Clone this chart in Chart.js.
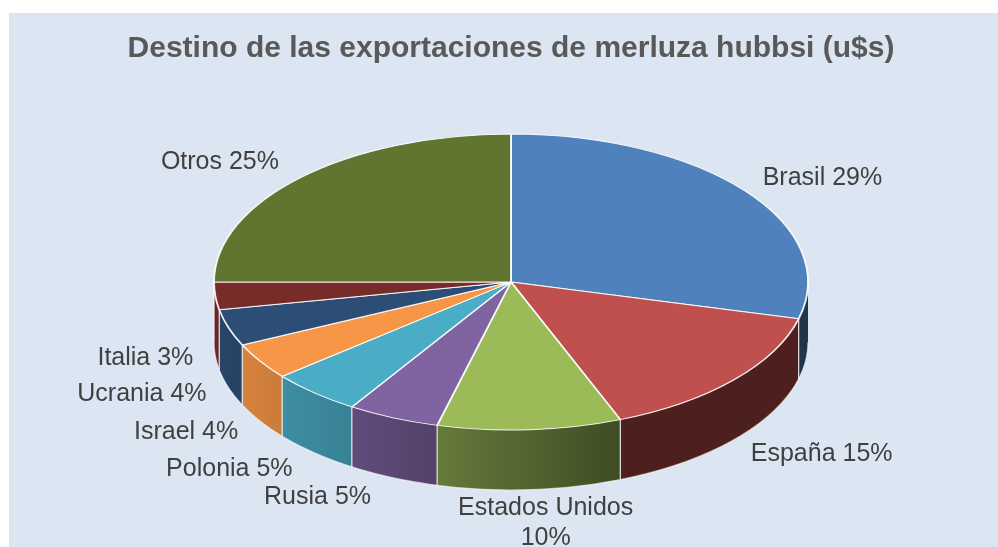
<!DOCTYPE html>
<html>
<head>
<meta charset="utf-8">
<script src="https://cdn.jsdelivr.net/npm/chart.js@4.4.0/dist/chart.umd.min.js"></script>
<style>
    html, body { margin: 0; padding: 0; background: #ffffff; }
    canvas { display: block; }
</style>
</head>
<body>
<canvas id="pieExports" width="998" height="547"></canvas>
<script>
var destinos = ['Brasil', 'España', 'Estados Unidos', 'Rusia', 'Polonia', 'Israel', 'Ucrania', 'Italia', 'Otros'];
var participacion = [29, 15, 10, 5, 5, 4, 4, 3, 25];
var coloresPie = ['#4F81BD', '#C0504D', '#9BBB59', '#8064A2', '#4BACC6', '#F79646', '#2C4D75', '#772C2A', '#5F7530'];
var tituloGrafico = 'Destino de las exportaciones de merluza hubbsi (u$s)';

// where the top of the pie sits on the page + thickness of the wall
var pieBox = { cx: 511, cy: 282, rx: 297, ry: 148, depth: 60 };
var fontFamily = '"Liberation Sans", Arial, sans-serif';

const wallPath = (ctx, a0, a1) => {
    ctx.beginPath();
    ctx.ellipse(pieBox.cx, pieBox.cy, pieBox.rx, pieBox.ry, 0, a0, a1);
    ctx.ellipse(pieBox.cx, pieBox.cy + pieBox.depth, pieBox.rx, pieBox.ry, 0, a1, a0, true);
    ctx.closePath();
}

const drawWalls = (chart) => {
    const ctx = chart.ctx;
    const arcs = chart.getDatasetMeta(0).data;
    ctx.save();
    //only the front half (0..PI) is visible
    arcs.forEach((arc) => {
        let a0 = Math.max(arc.startAngle, 0);
        let a1 = Math.min(arc.endAngle, Math.PI);
        if (a1 <= a0) return;
        wallPath(ctx, a0, a1);
        ctx.fillStyle = arc.options.backgroundColor;
        ctx.fill();
    });
    //light comes from the left
    let shade = ctx.createLinearGradient(pieBox.cx - pieBox.rx, 0, pieBox.cx + pieBox.rx, 0);
    shade.addColorStop(0, 'rgba(0,0,0,0.10)');
    shade.addColorStop(0.13, 'rgba(0,0,0,0.19)');
    shade.addColorStop(0.28, 'rgba(0,0,0,0.28)');
    shade.addColorStop(0.38, 'rgba(0,0,0,0.35)');
    shade.addColorStop(0.69, 'rgba(0,0,0,0.60)');
    shade.addColorStop(1, 'rgba(0,0,0,0.60)');
    wallPath(ctx, 0, Math.PI);
    ctx.fillStyle = shade;
    ctx.fill();
    //edges
    ctx.strokeStyle = 'rgba(255,255,255,0.85)';
    ctx.lineWidth = 1.2;
    arcs.forEach((arc) => {
        let a = arc.startAngle;
        if (a <= 0 || a >= Math.PI) return;
        let x = pieBox.cx + pieBox.rx * Math.cos(a);
        let y = pieBox.cy + pieBox.ry * Math.sin(a);
        ctx.beginPath();
        ctx.moveTo(x, y);
        ctx.lineTo(x, y + pieBox.depth);
        ctx.stroke();
    });
    ctx.strokeStyle = 'rgba(255,255,255,0.6)';
    ctx.beginPath();
    ctx.ellipse(pieBox.cx, pieBox.cy + pieBox.depth, pieBox.rx, pieBox.ry, 0, 0, Math.PI);
    ctx.stroke();
    ctx.restore();
}

const drawLabels = (chart) => {
    const ctx = chart.ctx;
    const arcs = chart.getDatasetMeta(0).data;
    const total = participacion.reduce((s, v) => s + v, 0);
    const lineH = 30;
    ctx.save();
    ctx.font = '25px ' + fontFamily;
    ctx.fillStyle = '#404040';
    ctx.textBaseline = 'middle';
    arcs.forEach((arc, i) => {
        let mid = (arc.startAngle + arc.endAngle) / 2;
        let c = Math.cos(mid), s = Math.sin(mid);
        let side = c > 0.2 ? 1 : (c < -0.2 ? -1 : 0);
        let x = pieBox.cx + pieBox.rx * c + (side === 0 ? 16 : (side > 0 ? 17 : -22));
        let y = pieBox.cy + pieBox.ry * s + 21 * s + (s > 0 ? pieBox.depth : 0);
        let pct = Math.round(participacion[i] / total * 100) + '%';
        let text = destinos[i] + ' ' + pct;
        let lines = ctx.measureText(text).width > 180 ? [destinos[i], pct] : [text];
        ctx.textAlign = side > 0 ? 'left' : (side < 0 ? 'right' : 'center');
        let y0 = side === 0 ? y - 3 : y - (lines.length - 1) * lineH / 2;
        lines.forEach((l, k) => ctx.fillText(l, x, y0 + k * lineH));
    });
    ctx.restore();
}

var pie3dPlugin = {
    id: 'pie3d',
    beforeDraw: (chart) => {
        const ctx = chart.ctx;
        ctx.save();
        ctx.fillStyle = '#DCE6F2';
        ctx.fillRect(9, 13, chart.width - 9, chart.height - 13);
        ctx.restore();
    },
    beforeDatasetsDraw: (chart) => {
        drawWalls(chart);
        // squash the library's circle onto the ellipse
        const ref = chart.getDatasetMeta(0).data[0];
        const r = ref.outerRadius;
        const ctx = chart.ctx;
        ctx.save();
        ctx.translate(pieBox.cx, pieBox.cy);
        ctx.scale(pieBox.rx / r, pieBox.ry / r);
        ctx.translate(-ref.x, -ref.y);
    },
    afterDatasetsDraw: (chart) => {
        chart.ctx.restore();
    },
    afterDraw: (chart) => {
        drawLabels(chart);
    }
};

var pieExportsConfig = {
    type: 'pie',
    data: {
        labels: destinos,
        datasets: [{
            data: participacion,
            backgroundColor: coloresPie,
            borderColor: 'rgba(255,255,255,0.9)',
            borderWidth: 1.5,
            clip: false,
        }],
    },
    options: {
        responsive: false,
        animation: false,
        devicePixelRatio: 1,
        rotation: 0,
        layout: { padding: { left: 24 } },
        plugins: {
            legend: { display: false },
            tooltip: { enabled: false },
            title: {
                display: true,
                text: tituloGrafico,
                color: '#595959',
                font: { family: fontFamily, size: 30, weight: 'bold', lineHeight: 1.2 },
                padding: { top: 31, bottom: 10 },
            },
        },
    },
    plugins: [pie3dPlugin],
};

window.myPie = new Chart(document.getElementById('pieExports'), pieExportsConfig);
</script>
</body>
</html>
